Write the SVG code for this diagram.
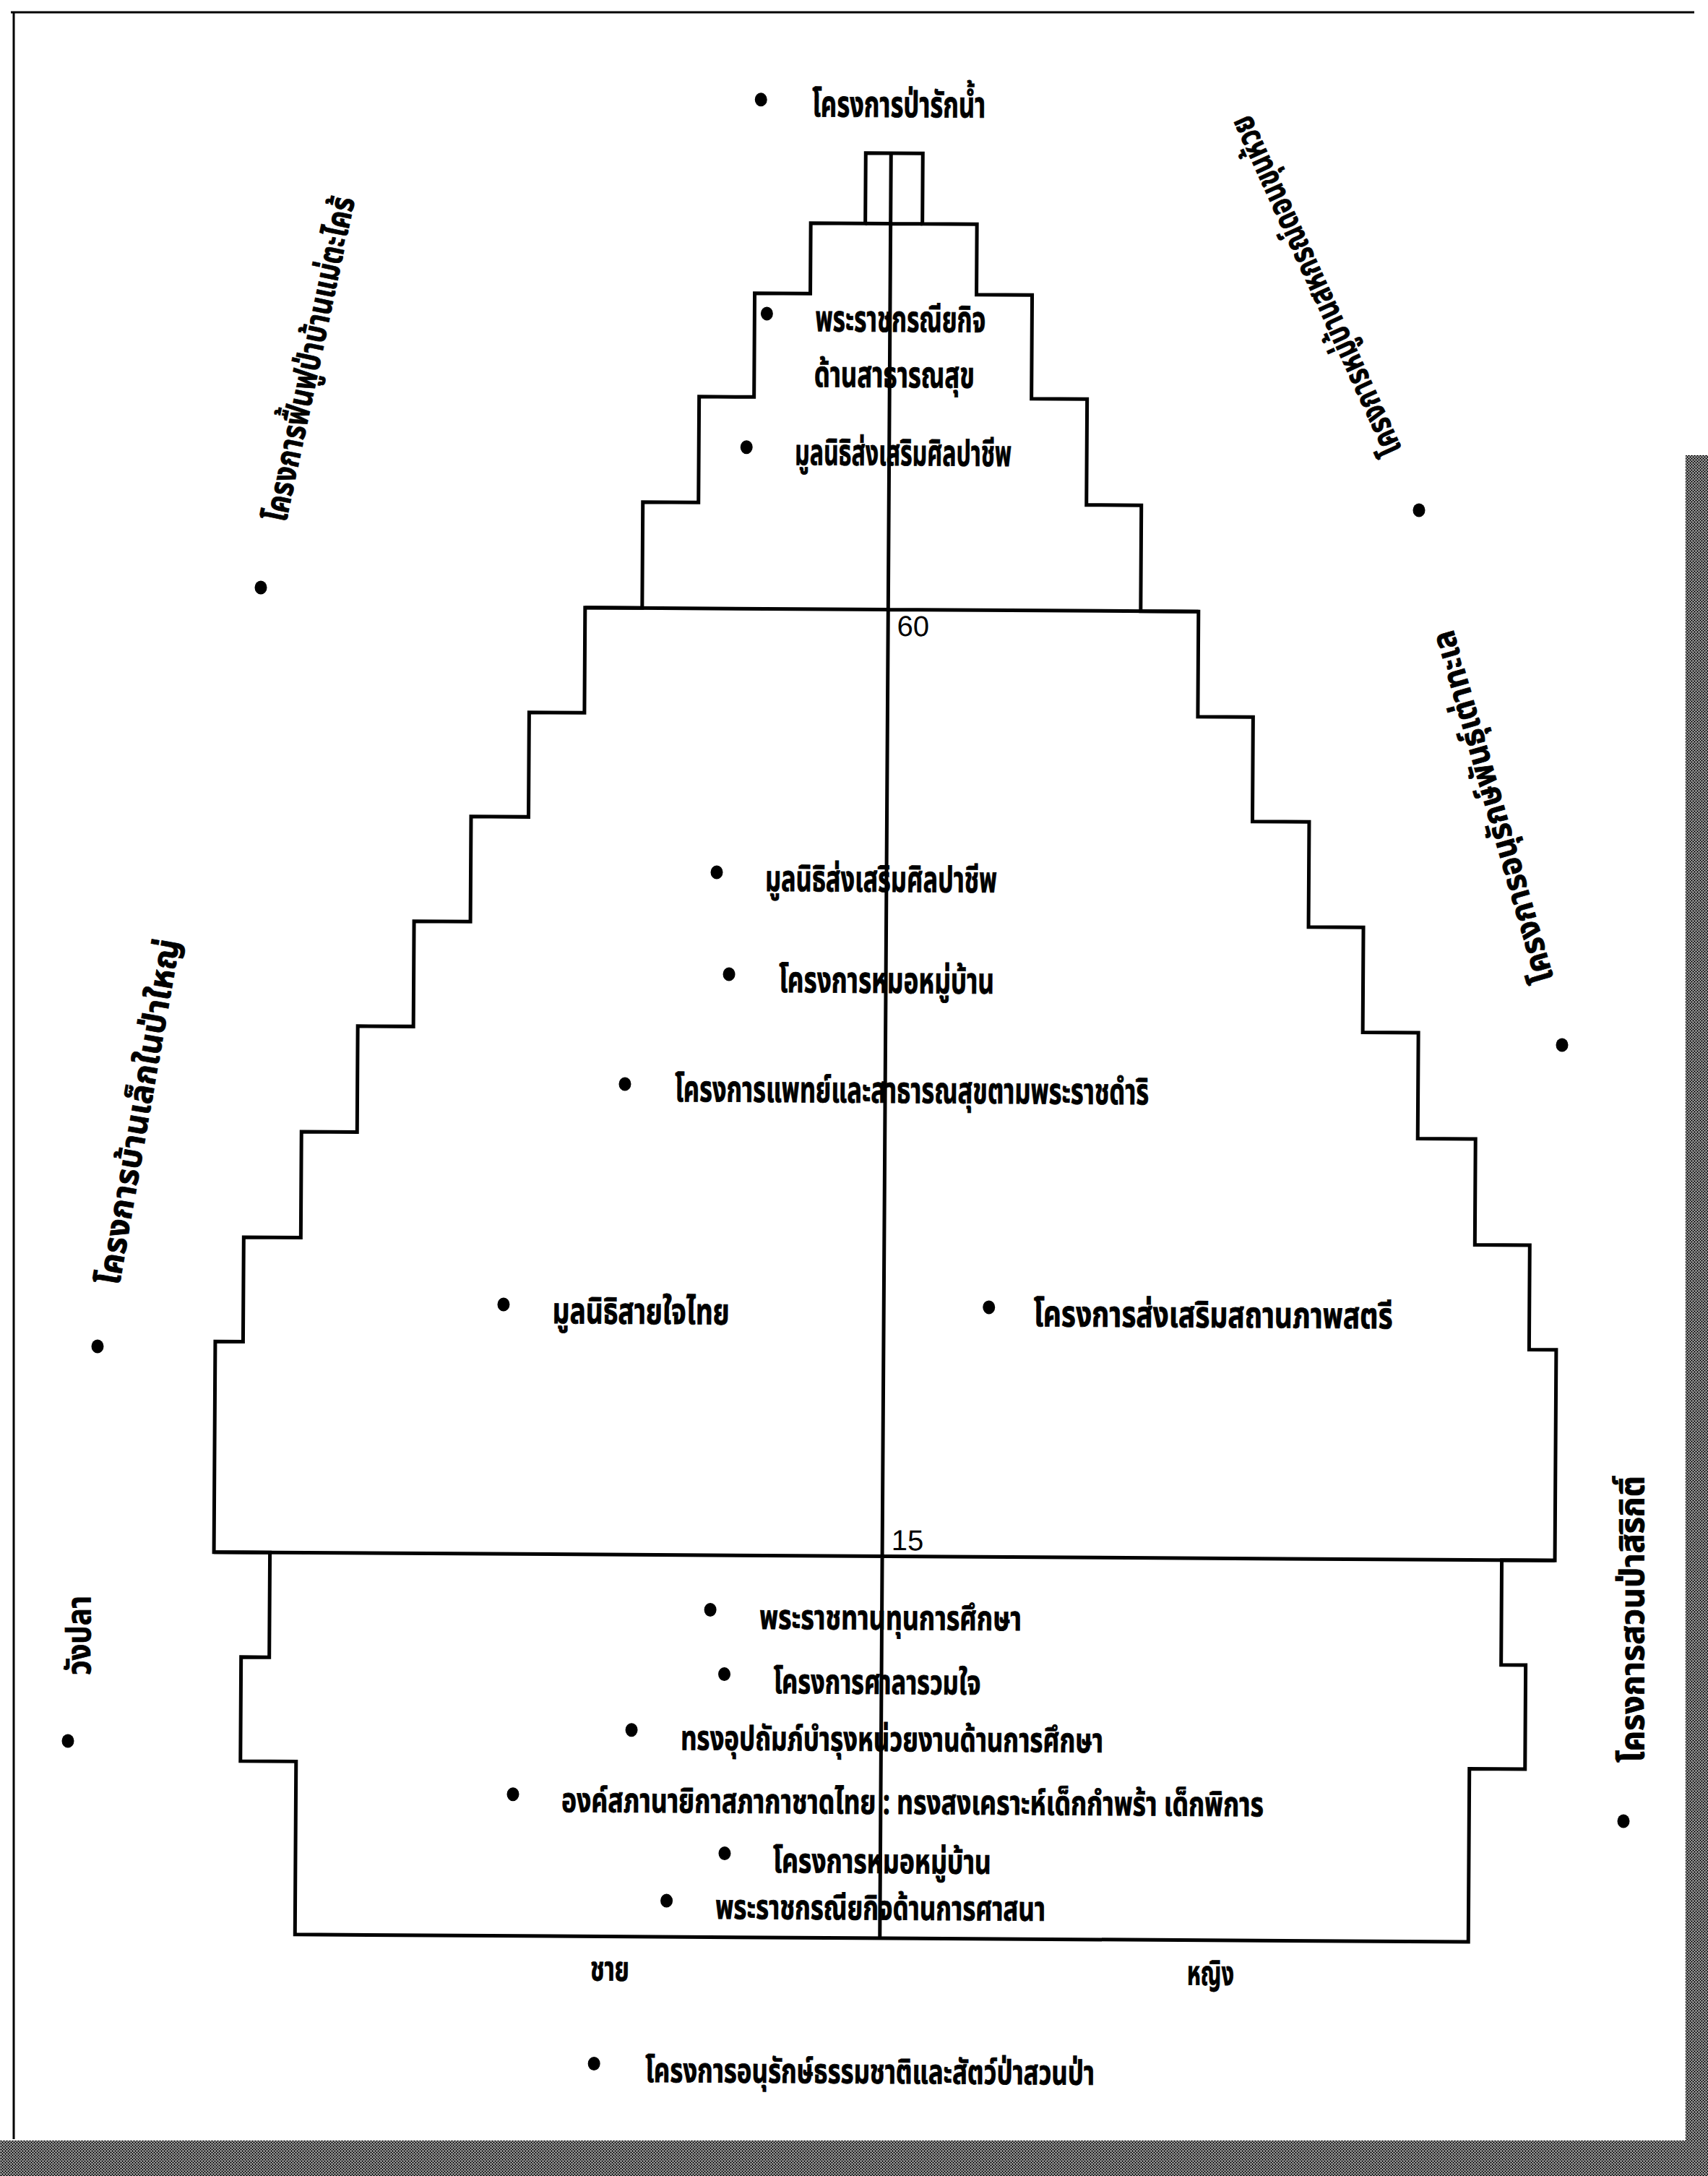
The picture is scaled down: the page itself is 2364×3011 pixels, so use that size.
<svg xmlns="http://www.w3.org/2000/svg" width="2364" height="3011" viewBox="0 0 2364 3011">
<style>
.t{font-family:'Noto Sans Thai','Noto Sans','DejaVu Sans',sans-serif;font-weight:bold;font-size:50px;fill:#000;stroke:#000;stroke-width:0.8}
.lo{font-size:47px}
.s{font-family:'Noto Sans Thai','Noto Sans','DejaVu Sans',sans-serif;font-weight:bold;font-size:46px;fill:#000;stroke:#000;stroke-width:0.8}
.n{font-family:'Liberation Sans',Arial,sans-serif;font-size:40px;fill:#000}
.ln{fill:none;stroke:#000;stroke-width:5;stroke-linejoin:miter}
.b{fill:#000}
</style>
<defs>
<pattern id="dither" width="4" height="4" patternUnits="userSpaceOnUse">
<rect width="4" height="4" fill="#fff"/>
<rect x="0" y="0" width="1" height="1" fill="#000"/><rect x="2" y="0" width="2" height="1" fill="#000"/>
<rect x="1" y="1" width="1" height="1" fill="#000"/><rect x="3" y="1" width="1" height="1" fill="#000"/>
<rect x="0" y="2" width="2" height="1" fill="#000"/><rect x="2" y="2" width="1" height="1" fill="#000"/>
<rect x="1" y="3" width="1" height="1" fill="#000"/><rect x="3" y="3" width="1" height="1" fill="#000"/>
</pattern>
</defs>
<rect width="2364" height="3011" fill="#fff"/>
<g id="page-frame">
<rect x="2333" y="630" width="31" height="2381" fill="url(#dither)"/>
<rect x="0" y="2962" width="2364" height="49" fill="url(#dither)"/>
<line x1="15" y1="17" x2="2345" y2="17" stroke="#000" stroke-width="3"/>
<line x1="19" y1="17" x2="19" y2="2960" stroke="#000" stroke-width="3"/>
</g>
<g id="pyramid" transform="rotate(0.36 1230 1450)">
<g id="outline">
<path class="ln" d="M1190.5 212 H1269.5 V309.5 H1345 V407 H1422 V550.5 H1499 V697 H1575 V843.5 H1655 V989 H1731.5 V1133.5 H1810 V1279 H1886 V1424.5 H1963 V1571 H2043 V1717.5 H2119 V1862 H2156.5 V2153.5 H2083 V2298.5 H2117 V2442.5 H2040 V2682 H416 V2442.5 H339 V2298.5 H378 V2153.5 H300.5 V1862 H339 V1717.5 H418 V1571 H495 V1424.5 H572 V1279 H650 V1133.5 H729.5 V989 H806 V843.5 H885 V697 H962 V550.5 H1038 V407 H1115 V309.5 H1190.5 Z"/>
<path class="ln" d="M1190.5 309.5 H1269.5 M806 843.5 H1655 M300.5 2153.5 H2156.5 M1225.5 212 V2682"/>
</g>
<g id="axis-labels">
<text class="n" x="1238" y="880">60</text>
<text class="n" x="1238" y="2145">15</text>
<text class="t lo" x="825" y="2743" textLength="54" lengthAdjust="spacingAndGlyphs">ชาย</text>
<text class="t lo" x="1651" y="2744" textLength="65" lengthAdjust="spacingAndGlyphs">หญิง</text>
</g>
<g id="n-paraksnam"><ellipse class="b" cx="1045" cy="139" rx="8.5" ry="9.5"/><text class="t" x="1116" y="162" textLength="240" lengthAdjust="spacingAndGlyphs">โครงการป่ารักน้ำ</text></g>
<g id="n-health"><ellipse class="b" cx="1055" cy="435" rx="8.5" ry="9.5"/><text class="t" x="1122" y="459" textLength="236" lengthAdjust="spacingAndGlyphs">พระราชกรณียกิจ</text><text class="t" x="1121" y="536" textLength="222" lengthAdjust="spacingAndGlyphs">ด้านสาธารณสุข</text></g>
<g id="n-silpacheep-1"><ellipse class="b" cx="1028" cy="620" rx="8.5" ry="9.5"/><text class="t" x="1095" y="644" textLength="300" lengthAdjust="spacingAndGlyphs">มูลนิธิส่งเสริมศิลปาชีพ</text></g>
<g id="n-silpacheep-2"><ellipse class="b" cx="990.5" cy="1208.5" rx="8.5" ry="9.5"/><text class="t" x="1057.6" y="1234" textLength="321" lengthAdjust="spacingAndGlyphs">มูลนิธิส่งเสริมศิลปาชีพ</text></g>
<g id="n-village-doctor-1"><ellipse class="b" cx="1008.4" cy="1349.4" rx="8.5" ry="9.5"/><text class="t" x="1077.5" y="1374" textLength="298" lengthAdjust="spacingAndGlyphs">โครงการหมอหมู่บ้าน</text></g>
<g id="n-medical"><ellipse class="b" cx="865.3" cy="1502.3" rx="8.5" ry="9.5"/><text class="t" x="934.5" y="1526" textLength="656" lengthAdjust="spacingAndGlyphs">โครงการแพทย์และสาธารณสุขตามพระราชดำริ</text></g>
<g id="n-saijai"><ellipse class="b" cx="699.2" cy="1808.3" rx="8.5" ry="9.5"/><text class="t" x="767" y="1834" textLength="245" lengthAdjust="spacingAndGlyphs">มูลนิธิสายใจไทย</text></g>
<g id="n-women"><ellipse class="b" cx="1371" cy="1808" rx="8.5" ry="9.5"/><text class="t" x="1433" y="1834" textLength="497" lengthAdjust="spacingAndGlyphs">โครงการส่งเสริมสถานภาพสตรี</text></g>
<g id="n-scholarship"><ellipse class="b" cx="988" cy="2229" rx="8.5" ry="9.5"/><text class="t lo" x="1056" y="2255" textLength="363" lengthAdjust="spacingAndGlyphs">พระราชทานทุนการศึกษา</text></g>
<g id="n-salaruamjai"><ellipse class="b" cx="1008" cy="2318" rx="8.5" ry="9.5"/><text class="t lo" x="1076" y="2344" textLength="287" lengthAdjust="spacingAndGlyphs">โครงการศาลารวมใจ</text></g>
<g id="n-education"><ellipse class="b" cx="880" cy="2396" rx="8.5" ry="9.5"/><text class="t lo" x="948" y="2423" textLength="585" lengthAdjust="spacingAndGlyphs">ทรงอุปถัมภ์บำรุงหน่วยงานด้านการศึกษา</text></g>
<g id="n-redcross"><ellipse class="b" cx="716.5" cy="2486" rx="8.5" ry="9.5"/><text class="t lo" x="783.6" y="2510" textLength="972" lengthAdjust="spacingAndGlyphs">องค์สภานายิกาสภากาชาดไทย : ทรงสงเคราะห์เด็กกำพร้า เด็กพิการ</text></g>
<g id="n-village-doctor-2"><ellipse class="b" cx="1010" cy="2566" rx="8.5" ry="9.5"/><text class="t lo" x="1077" y="2592" textLength="302" lengthAdjust="spacingAndGlyphs">โครงการหมอหมู่บ้าน</text></g>
<g id="n-religion"><ellipse class="b" cx="930" cy="2632" rx="8.5" ry="9.5"/><text class="t lo" x="997.6" y="2656.5" textLength="457" lengthAdjust="spacingAndGlyphs">พระราชกรณียกิจด้านการศาสนา</text></g>
<g id="n-wildlife"><ellipse class="b" cx="831" cy="2858" rx="8.5" ry="9.5"/><text class="t lo" x="902" y="2883" textLength="622" lengthAdjust="spacingAndGlyphs">โครงการอนุรักษ์ธรรมชาติและสัตว์ป่าสวนป่า</text></g>
</g>
<g id="n-maetakhrai"><ellipse class="b" cx="361" cy="813" rx="8.5" ry="9.5"/><text class="s" transform="translate(396 724) rotate(-78)" textLength="458" lengthAdjust="spacingAndGlyphs">โครงการฟื้นฟูป่าบ้านแม่ตะไคร้</text></g>
<g id="n-banlek"><ellipse class="b" cx="135" cy="1863" rx="8.5" ry="9.5"/><text class="s" transform="translate(165 1780) rotate(-80)" textLength="485" lengthAdjust="spacingAndGlyphs">โครงการบ้านเล็กในป่าใหญ่</text></g>
<g id="n-wangpla"><ellipse class="b" cx="94" cy="2409" rx="8.5" ry="9.5"/><text class="s" transform="translate(125 2318) rotate(-90)" textLength="110" lengthAdjust="spacingAndGlyphs">วังปลา</text></g>
<g id="n-suanpa"><ellipse class="b" cx="2247" cy="2520" rx="8.5" ry="9.5"/><text class="s" transform="translate(2275 2439) rotate(-90)" textLength="397" lengthAdjust="spacingAndGlyphs">โครงการสวนป่าสิริกิติ์</text></g>
<g id="n-donkhunhuai"><ellipse class="b" cx="1964" cy="706" rx="8.5" ry="9.5"/><text class="s" transform="translate(1941 622) rotate(-114.4)" textLength="511" lengthAdjust="spacingAndGlyphs">โครงการหมู่บ้านสหกรณ์ดอนขุนห้วย</text></g>
<g id="n-turtle"><ellipse class="b" cx="2162" cy="1446" rx="8.5" ry="9.5"/><text class="s" transform="translate(2151 1355) rotate(-106.1)" textLength="505" lengthAdjust="spacingAndGlyphs">โครงการอนุรักษ์พันธุ์เต่าทะเล</text></g>
</svg>
